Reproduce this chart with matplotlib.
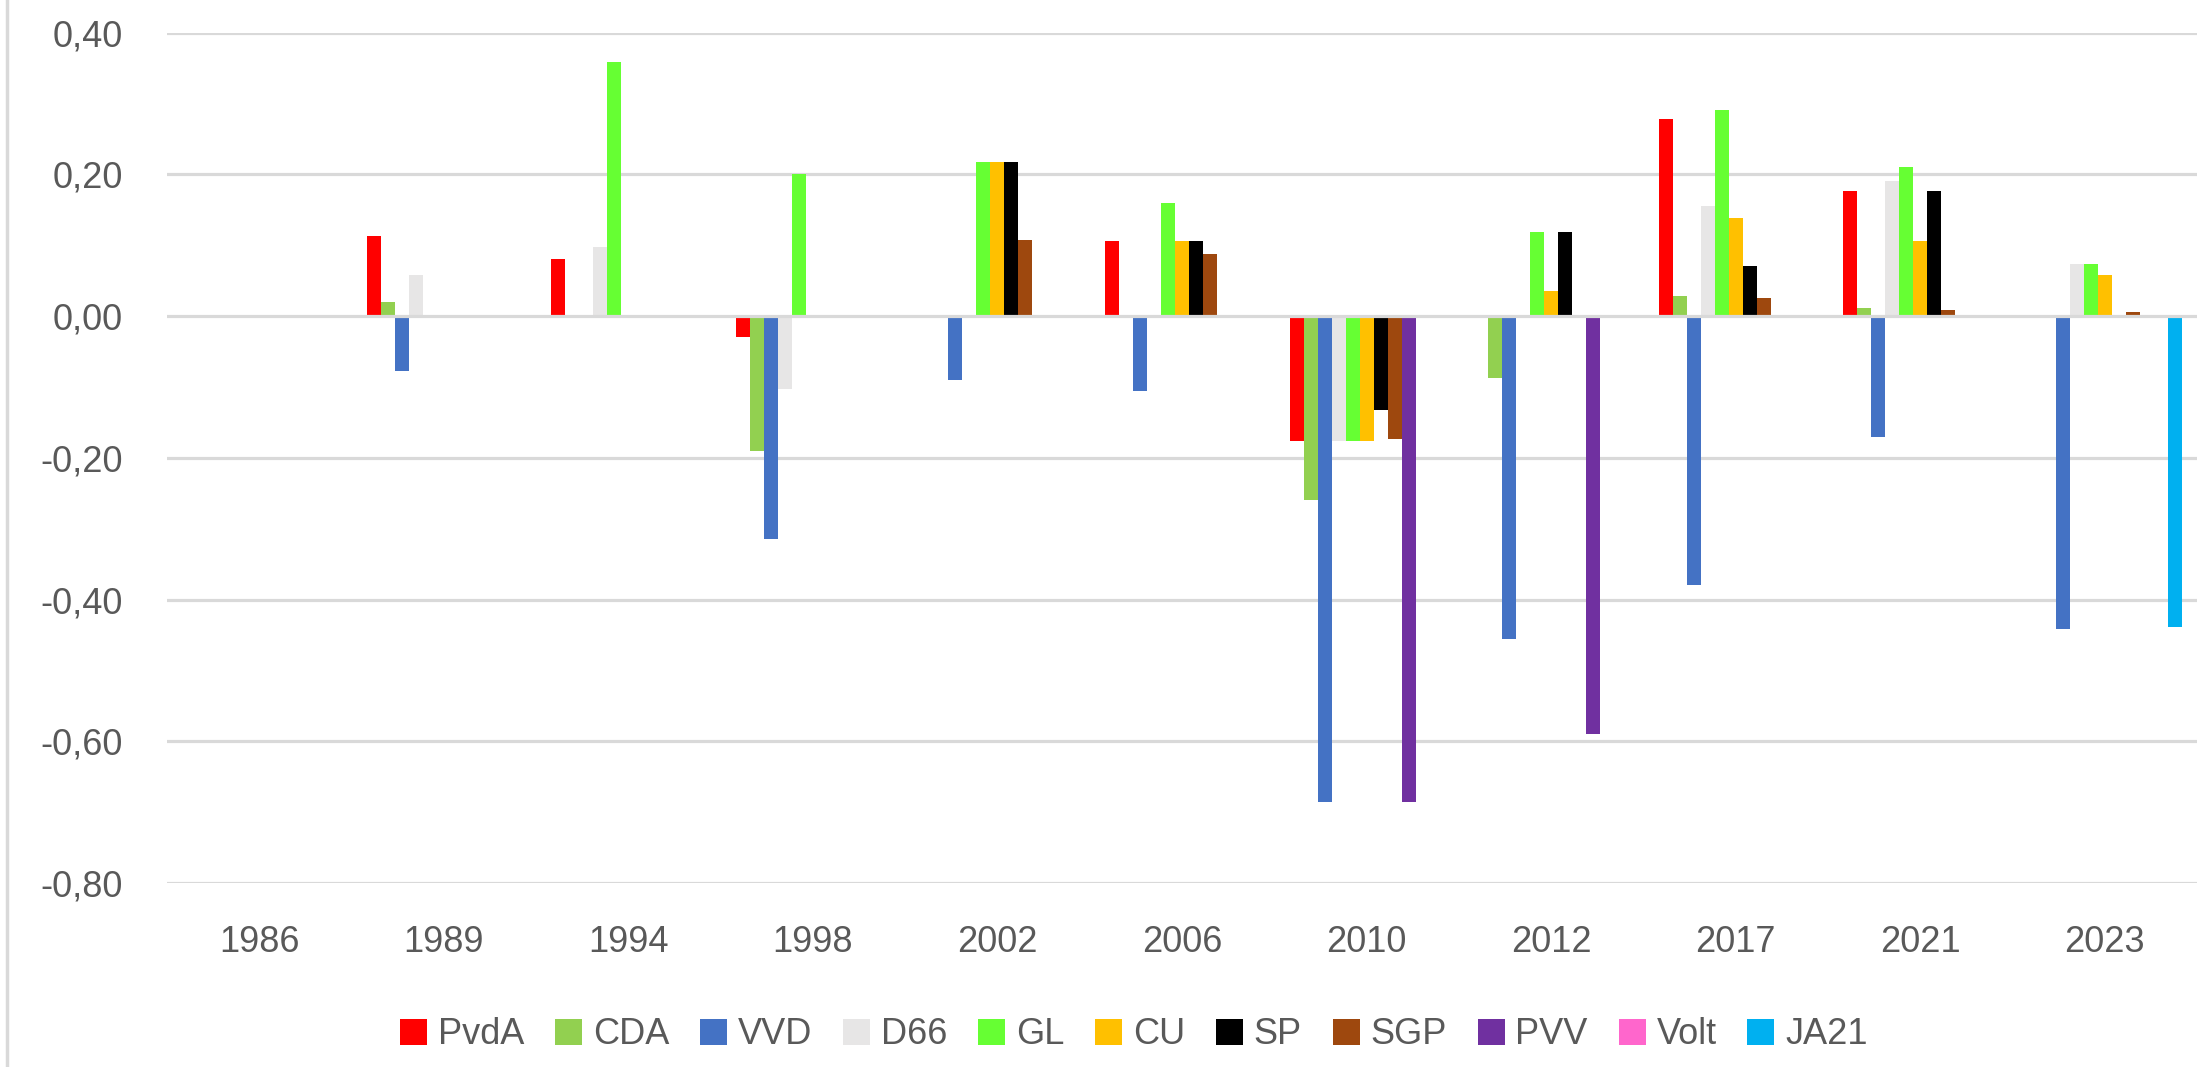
import matplotlib
matplotlib.use("Agg")
import matplotlib.pyplot as plt
from matplotlib.lines import Line2D
from matplotlib.patches import Patch
import numpy as np

nan = np.nan

years = ["1986", "1989", "1994", "1998", "2002", "2006", "2010", "2012", "2017", "2021", "2023"]
parties = ["PvdA", "CDA", "VVD", "D66", "GL", "CU", "SP", "SGP", "PVV", "Volt", "JA21"]
colors = ["#FF0000", "#92D050", "#4472C4", "#E7E6E6", "#66FF33", "#FFC000",
          "#000000", "#9E480E", "#7030A0", "#FF66CC", "#00B0F0"]

pvda = [nan, 0.113, 0.081, -0.030, nan, 0.106, -0.176, nan, 0.278, 0.177, nan]
cda = [nan, 0.020, nan, -0.191, nan, nan, -0.259, -0.088, 0.028, 0.012, nan]
vvd = [nan, -0.077, nan, -0.315, -0.090, -0.106, -0.686, -0.455, -0.380, -0.171, -0.442]
d66 = [nan, 0.058, 0.097, -0.103, nan, nan, -0.176, nan, 0.155, 0.191, 0.073]
gl = [nan, nan, 0.359, 0.200, 0.217, 0.159, -0.176, 0.119, 0.291, 0.210, 0.073]
cu = [nan, nan, nan, nan, 0.217, 0.106, -0.176, 0.035, 0.139, 0.106, 0.058]
sp = [nan, nan, nan, nan, 0.217, 0.106, -0.133, 0.119, 0.071, 0.177, nan]
sgp = [nan, nan, nan, nan, 0.107, 0.088, -0.173, nan, 0.025, 0.009, 0.006]
pvv = [nan, nan, nan, nan, nan, nan, -0.686, -0.589, nan, nan, nan]
volt = [nan] * 11
ja21 = [nan, nan, nan, nan, nan, nan, nan, nan, nan, nan, -0.438]

series = [pvda, cda, vvd, d66, gl, cu, sp, sgp, pvv, volt, ja21]

plt.rcParams['font.family'] = ['Liberation Sans', 'DejaVu Sans']
txt = "#595959"
grid = "#D9D9D9"

fig = plt.figure(figsize=(22.04, 10.67), dpi=100)
ax = fig.add_axes([0.0758, 0.1724, 0.9210, 0.7970])

x = np.arange(len(years))
bw = 0.0759
n = len(series)
for i, (vals, c) in enumerate(zip(series, colors)):
    off = (i - (n - 1) / 2) * bw
    ax.bar(x + off, vals, width=bw, color=c, zorder=2)

ax.set_xlim(-0.5, len(years) - 0.5)
ax.set_ylim(-0.8, 0.4)
yt = [0.4, 0.2, 0.0, -0.2, -0.4, -0.6, -0.8]
ax.set_yticks(yt)
ax.set_yticklabels([f"{v:.2f}".replace(".", ",") for v in yt])
for v in yt:
    ax.axhline(v, color=grid, lw=2.3, zorder=1 if v != 0 else 3)
ax.set_xticks(x)
ax.set_xticklabels(years)
ax.tick_params(axis="both", length=0, labelsize=26, colors=txt)
ax.tick_params(axis="x", pad=30)
ax.tick_params(axis="y", pad=32)
for s in ax.spines.values():
    s.set_visible(False)

# chart border at the left edge
fig.add_artist(Line2D([0.0032, 0.0032], [0, 1], color=grid, lw=2.5, transform=fig.transFigure))

handles = [Patch(facecolor=c, edgecolor="none") for c in colors]
fig.legend(handles, parties, loc="center", bbox_to_anchor=(0.5145, 0.030), ncol=len(parties),
           frameon=False, fontsize=26, labelcolor=txt, handlelength=0.75, handleheight=0.75,
           handletextpad=0.3, columnspacing=0.85)

fig.savefig("out.png", dpi=100)
